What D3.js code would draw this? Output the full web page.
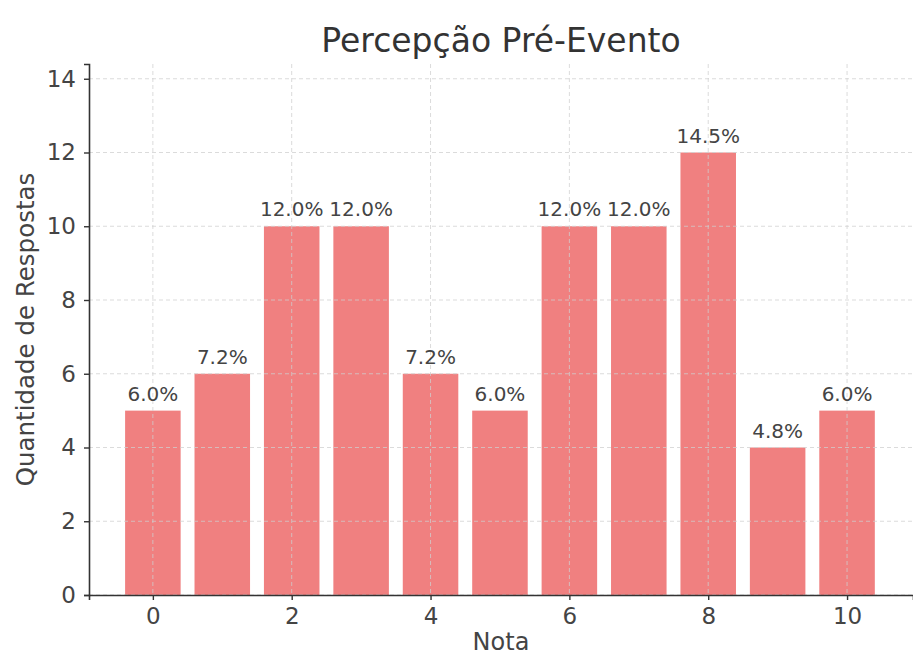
<!DOCTYPE html>
<html><head><meta charset="utf-8">
<script src="https://cdn.jsdelivr.net/npm/d3@7"></script>
<style>
html,body{margin:0;padding:0;background:#fff;}
svg{display:block;font-family:"DejaVu Sans",sans-serif;}
</style></head>
<body><svg id="chart" width="913" height="656"></svg>
<script>
const notas = [0,1,2,3,4,5,6,7,8,9,10];
const respostas = [5,6,10,10,6,5,10,10,12,4,5];
const percentLabels = ["6.0%","7.2%","12.0%","12.0%","7.2%","6.0%","12.0%","12.0%","14.5%","4.8%","6.0%"];
const xTicks = [0,2,4,6,8,10];
const yTicks = [0,2,4,6,8,10,12,14];
const title = "Percepção Pré-Evento";
const xLabel = "Nota";
const yLabel = "Quantidade de Respostas";

const svg = d3.select("#chart");
const m = {left:89, right:913, top:64, bottom:595};
const x = d3.scaleLinear().domain([-0.92, 10.95]).range([m.left, m.right]);
const y = d3.scaleLinear().domain([0, 14.4]).range([m.bottom, m.top]);
const textColor = "#444";
const gridColor = "#cfcfcf";

// bars
const bw = x(0.8) - x(0);
svg.append("g").selectAll("rect").data(notas).join("rect")
  .attr("x", (d)=>x(d) - bw/2)
  .attr("width", bw)
  .attr("y", (d,i)=>y(respostas[i]))
  .attr("height", (d,i)=>y(0)-y(respostas[i]))
  .attr("fill", "#F08080");

// grid (drawn above bars, like matplotlib)
const grid = svg.append("g");
grid.selectAll("line.gy").data(yTicks).join("line")
  .attr("x1", m.left).attr("x2", m.right)
  .attr("y1", d=>y(d)).attr("y2", d=>y(d))
  .attr("stroke", gridColor).attr("stroke-width",1).attr("stroke-dasharray","4,3").attr("stroke-opacity",0.75);
grid.selectAll("line.gx").data(xTicks).join("line")
  .attr("x1", d=>x(d)).attr("x2", d=>x(d))
  .attr("y1", m.top).attr("y2", m.bottom)
  .attr("stroke", gridColor).attr("stroke-width",1).attr("stroke-dasharray","4,3").attr("stroke-opacity",0.75);

// bar labels
svg.append("g").selectAll("text").data(notas).join("text")
  .attr("x", d=>x(d))
  .attr("y", (d,i)=>y(respostas[i]) - 10)
  .attr("text-anchor","middle")
  .attr("font-size", 20)
  .attr("fill", textColor)
  .text((d,i)=>percentLabels[i]);

// axes
const xAxis = d3.axisBottom(x).tickValues(xTicks).tickSize(5).tickPadding(8).tickFormat(d3.format("d"));
const gx = svg.append("g").attr("transform", `translate(0,${m.bottom})`).call(xAxis);
gx.select(".domain").attr("stroke","#333").attr("stroke-width",1.6);
gx.selectAll(".tick line").attr("stroke","#333").attr("stroke-width",1.4);
gx.selectAll(".tick text").attr("font-size",23).attr("fill",textColor).attr("font-family","DejaVu Sans");

const yAxis = d3.axisLeft(y).tickValues(yTicks).tickSize(5).tickPadding(8).tickFormat(d3.format("d"));
const gy = svg.append("g").attr("transform", `translate(${m.left},0)`).call(yAxis);
gy.select(".domain").attr("stroke","#333").attr("stroke-width",1.6);
gy.selectAll(".tick line").attr("stroke","#333").attr("stroke-width",1.4);
gy.selectAll(".tick text").attr("font-size",23).attr("fill",textColor).attr("font-family","DejaVu Sans");

// title
svg.append("text").attr("x", (m.left+m.right)/2).attr("y", 52)
  .attr("text-anchor","middle").attr("font-size",33).attr("fill","#333").text(title);
// x label
svg.append("text").attr("x", (m.left+m.right)/2).attr("y", 650)
  .attr("text-anchor","middle").attr("font-size",24).attr("fill",textColor).text(xLabel);
// y label
svg.append("text").attr("transform", `translate(34,${(m.top+m.bottom)/2}) rotate(-90)`)
  .attr("text-anchor","middle").attr("font-size",24.5).attr("fill",textColor).text(yLabel);
</script></body></html>
